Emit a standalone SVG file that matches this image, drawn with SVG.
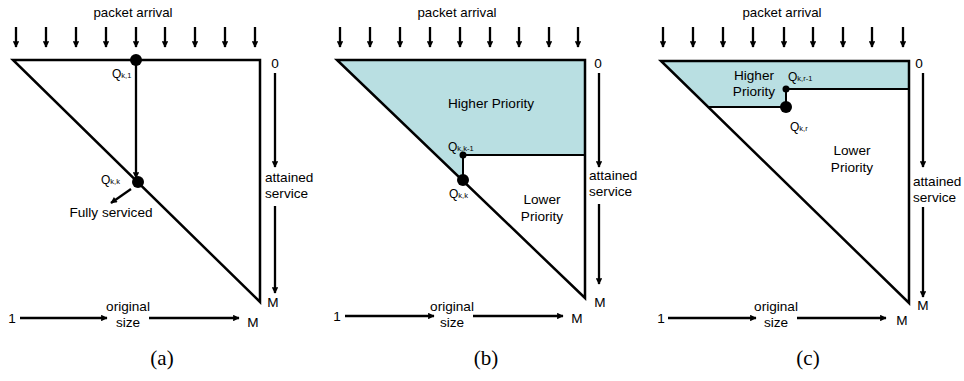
<svg xmlns="http://www.w3.org/2000/svg" width="964" height="381" viewBox="0 0 964 381">
<defs>
<marker id="ah" viewBox="0 0 10 10" refX="9" refY="5" markerWidth="5" markerHeight="5" markerUnits="userSpaceOnUse" orient="auto">
<path d="M0,0 L10,5 L0,10 z" fill="#000"/>
</marker>
<marker id="ah2" viewBox="0 0 10 10" refX="9" refY="5" markerWidth="8" markerHeight="6.5" markerUnits="userSpaceOnUse" orient="auto">
<path d="M0,0 L10,5 L0,10 z" fill="#000"/>
</marker>
</defs>
<style>
text{font-family:"Liberation Sans",Arial,sans-serif;fill:#000}
.t{font-size:13.3px}
.l{font-size:13.6px}
.s{font-size:7.5px}
.q{font-size:12px}
.cap{font-family:"Liberation Serif","Times New Roman",serif;font-size:21px}
.arr{stroke:#000;stroke-width:2.3;fill:none;marker-end:url(#ah2)}
.frame{stroke:#000;stroke-width:2.5;fill:none;stroke-linejoin:miter}
.fill{fill:#b9dfe2;stroke:none}
.thin{stroke:#000;stroke-width:2;fill:none}
</style>

<!-- Panel (a) -->
<g id="panel-a">
<text class="t" x="133" y="17" text-anchor="middle">packet arrival</text>
<g id="a-arrivals">
<line class="arr" x1="16" y1="27" x2="16" y2="47"/>
<line class="arr" x1="46" y1="27" x2="46" y2="47"/>
<line class="arr" x1="76" y1="27" x2="76" y2="47"/>
<line class="arr" x1="106" y1="27" x2="106" y2="47"/>
<line class="arr" x1="136" y1="27" x2="136" y2="47"/>
<line class="arr" x1="165" y1="27" x2="165" y2="47"/>
<line class="arr" x1="195" y1="27" x2="195" y2="47"/>
<line class="arr" x1="225" y1="27" x2="225" y2="47"/>
<line class="arr" x1="255" y1="27" x2="255" y2="47"/>
</g>
<g id="a-frame">
<path class="frame" d="M13,60 L260,60 L260,302 Z" stroke-width="3"/>
</g>
<g id="a-qk1">
<circle cx="136" cy="60" r="6"/>
<text class="q" x="112" y="78">Q<tspan class="s">k,1</tspan></text>
</g>
<line class="arr" x1="136" y1="60" x2="136" y2="178" stroke-width="2.8"/>
<g id="a-qkk">
<circle cx="138" cy="182" r="6"/>
<text class="q" x="101" y="184">Q<tspan class="s">k,k</tspan></text>
</g>
<line class="arr" x1="131" y1="189" x2="111" y2="203" marker-end="url(#ah)" stroke-width="1.6"/>
<text class="l" x="111" y="217" text-anchor="middle">Fully serviced</text>
<g id="a-axis">
<text class="l" x="275" y="68" text-anchor="middle">0</text>
<line class="arr" x1="275" y1="73" x2="275" y2="167" stroke-width="2.8"/>
<text class="l" x="265" y="182">attained</text>
<text class="l" x="265" y="198">service</text>
<line class="arr" x1="275" y1="206" x2="275" y2="293" stroke-width="2.8"/>
<text class="l" x="273" y="307" text-anchor="middle">M</text>
<text class="l" x="12" y="323" text-anchor="middle">1</text>
<line class="arr" x1="20" y1="318" x2="107" y2="318" stroke-width="2.8"/>
<text class="l" x="128" y="311" text-anchor="middle">original</text>
<text class="l" x="128" y="327" text-anchor="middle">size</text>
<line class="arr" x1="149" y1="318" x2="239" y2="318" stroke-width="2.8"/>
<text class="l" x="253" y="327" text-anchor="middle">M</text>
</g>
<text class="cap" x="162" y="365" text-anchor="middle">(a)</text>
</g>

<!-- Panel (b) -->
<g id="panel-b">
<text class="t" x="457" y="17" text-anchor="middle">packet arrival</text>
<g id="b-arrivals">
<line class="arr" x1="340" y1="27" x2="340" y2="47"/>
<line class="arr" x1="370" y1="27" x2="370" y2="47"/>
<line class="arr" x1="400" y1="27" x2="400" y2="47"/>
<line class="arr" x1="430" y1="27" x2="430" y2="47"/>
<line class="arr" x1="460" y1="27" x2="460" y2="47"/>
<line class="arr" x1="490" y1="27" x2="490" y2="47"/>
<line class="arr" x1="519" y1="27" x2="519" y2="47"/>
<line class="arr" x1="549" y1="27" x2="549" y2="47"/>
<line class="arr" x1="578" y1="27" x2="578" y2="47"/>
</g>
<g id="b-high">
<path class="fill" d="M337,60 L585,60 L585,155 L463,155 L463,180.5 Z"/>
<text class="l" x="491" y="108" text-anchor="middle">Higher Priority</text>
</g>
<g id="b-frame">
<path class="frame" d="M337,60 L585,60 L585,298 Z"/>
<line class="thin" x1="463" y1="155" x2="585" y2="155"/>
<line class="thin" x1="463" y1="155" x2="463" y2="180"/>
</g>
<g id="b-qkk1">
<circle cx="463" cy="155" r="3.5"/>
<text class="q" x="448" y="151">Q<tspan class="s">k,k-1</tspan></text>
</g>
<g id="b-qkk">
<circle cx="463" cy="180" r="6"/>
<text class="q" x="449" y="198">Q<tspan class="s">k,k</tspan></text>
</g>
<g id="b-low">
<text class="l" x="542" y="204" text-anchor="middle">Lower</text>
<text class="l" x="542" y="221" text-anchor="middle">Priority</text>
</g>
<g id="b-axis">
<text class="l" x="598" y="68" text-anchor="middle">0</text>
<line class="arr" x1="599" y1="73" x2="599" y2="167" stroke-width="2.8"/>
<text class="l" x="589" y="180">attained</text>
<text class="l" x="589" y="196">service</text>
<line class="arr" x1="599" y1="204" x2="599" y2="284" stroke-width="2.8"/>
<text class="l" x="600" y="307" text-anchor="middle">M</text>
<text class="l" x="337" y="321" text-anchor="middle">1</text>
<line class="arr" x1="345" y1="316" x2="434" y2="316" stroke-width="2.8"/>
<text class="l" x="452" y="311" text-anchor="middle">original</text>
<text class="l" x="452" y="327" text-anchor="middle">size</text>
<line class="arr" x1="473" y1="316" x2="563" y2="316" stroke-width="2.8"/>
<text class="l" x="577" y="323" text-anchor="middle">M</text>
</g>
<text class="cap" x="486" y="365" text-anchor="middle">(b)</text>
</g>

<!-- Panel (c) -->
<g id="panel-c">
<text class="t" x="782" y="17" text-anchor="middle">packet arrival</text>
<g id="c-arrivals">
<line class="arr" x1="663" y1="27" x2="663" y2="47"/>
<line class="arr" x1="693" y1="27" x2="693" y2="47"/>
<line class="arr" x1="723" y1="27" x2="723" y2="47"/>
<line class="arr" x1="753" y1="27" x2="753" y2="47"/>
<line class="arr" x1="784" y1="27" x2="784" y2="47"/>
<line class="arr" x1="813" y1="27" x2="813" y2="47"/>
<line class="arr" x1="843" y1="27" x2="843" y2="47"/>
<line class="arr" x1="872" y1="27" x2="872" y2="47"/>
<line class="arr" x1="903" y1="27" x2="903" y2="47"/>
</g>
<g id="c-high">
<path class="fill" d="M661,61 L909,61 L909,89 L786,89 L786,107 L708,107 Z"/>
<text class="l" x="754" y="80" text-anchor="middle">Higher</text>
<text class="l" x="754" y="96" text-anchor="middle">Priority</text>
</g>
<g id="c-frame">
<path class="frame" d="M661,61 L909,61 L909,303 Z"/>
<line class="thin" x1="786" y1="89" x2="909" y2="89"/>
<line class="thin" x1="786" y1="89" x2="786" y2="107"/>
<line class="thin" x1="708" y1="107" x2="786" y2="107"/>
</g>
<g id="c-qkr1">
<circle cx="786" cy="89" r="3.5"/>
<text class="q" x="788" y="81">Q<tspan class="s">k,r-1</tspan></text>
</g>
<g id="c-qkr">
<circle cx="786" cy="107" r="6"/>
<text class="q" x="790" y="131">Q<tspan class="s">k,r</tspan></text>
</g>
<g id="c-low">
<text class="l" x="852" y="155" text-anchor="middle">Lower</text>
<text class="l" x="852" y="172" text-anchor="middle">Priority</text>
</g>
<g id="c-axis">
<text class="l" x="919" y="68" text-anchor="middle">0</text>
<line class="arr" x1="923" y1="73" x2="923" y2="167" stroke-width="2.8"/>
<text class="l" x="913" y="186">attained</text>
<text class="l" x="913" y="202">service</text>
<line class="arr" x1="923" y1="207" x2="923" y2="297" stroke-width="2.8"/>
<text class="l" x="923" y="310" text-anchor="middle">M</text>
<text class="l" x="661" y="323" text-anchor="middle">1</text>
<line class="arr" x1="668" y1="318" x2="756" y2="318" stroke-width="2.8"/>
<text class="l" x="776" y="311" text-anchor="middle">original</text>
<text class="l" x="776" y="327" text-anchor="middle">size</text>
<line class="arr" x1="797" y1="318" x2="886" y2="318" stroke-width="2.8"/>
<text class="l" x="902" y="325" text-anchor="middle">M</text>
</g>
<text class="cap" x="808" y="365" text-anchor="middle">(c)</text>
</g>
</svg>
